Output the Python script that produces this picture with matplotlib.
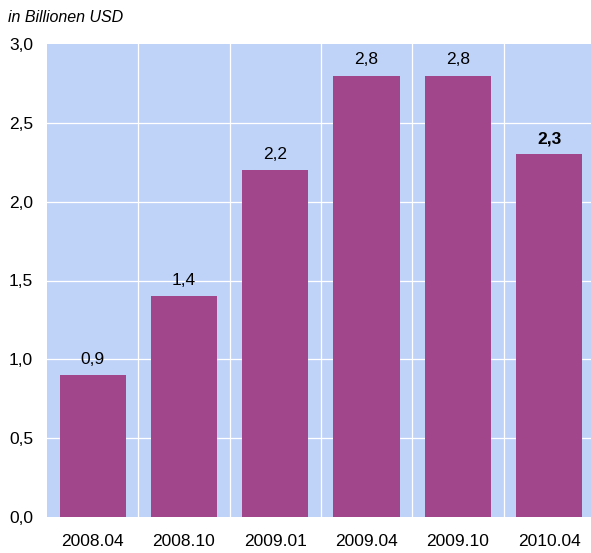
import matplotlib.pyplot as plt
import numpy as np

# data
categories = ["2008.04", "2008.10", "2009.01", "2009.04", "2009.10", "2010.04"]
values = [0.9, 1.4, 2.2, 2.8, 2.8, 2.3]
labels = ["0,9", "1,4", "2,2", "2,8", "2,8", "2,3"]
yticks = [0.0, 0.5, 1.0, 1.5, 2.0, 2.5, 3.0]

bg = "#BFD3F9"
bar_color = "#A1468B"

plt.rcParams["font.family"] = ["Liberation Sans", "DejaVu Sans"]

fig = plt.figure(figsize=(5.91, 5.53), dpi=100)
W, H = 591, 553
left, bottom, top = 47, 517, 44
ax = fig.add_axes([left / W, (H - bottom) / H, (W - left) / W, (bottom - top) / H])
ax.set_facecolor(bg)

x = np.arange(len(categories))
ax.bar(x, values, width=0.725, color=bar_color, zorder=3)

# value labels
for i, (v, lab) in enumerate(zip(values, labels)):
    ax.annotate(lab, (i, v), xytext=(0, 6), textcoords="offset points",
                ha="center", va="bottom", fontsize=12.5,
                fontweight="bold" if i == len(values) - 1 else "normal")

ax.set_ylim(0, 3.0)
step = 91.3
ax.set_xlim(-0.5, -0.5 + (W - left) / step)

# white grid
for yy in yticks[1:-1]:
    ax.axhline(yy, color="white", lw=0.9, zorder=1)
for xx in np.arange(0.5, len(categories) - 0.5, 1):
    ax.axvline(xx, color="white", lw=0.9, zorder=1)

ax.set_yticks(yticks)
ax.set_yticklabels([f"{t:.1f}".replace(".", ",") for t in yticks], fontsize=12.5)
ax.set_xticks(x)
ax.set_xticklabels(categories, fontsize=12.5)
ax.tick_params(length=0)
ax.tick_params(axis="y", pad=10)
ax.tick_params(axis="x", pad=12)
for s in ax.spines.values():
    s.set_visible(False)

fig.text(8 / W, 1 - 17 / H, "in Billionen USD", fontsize=11.5, style="italic",
         ha="left", va="center")

fig.savefig("out.png", dpi=100)
